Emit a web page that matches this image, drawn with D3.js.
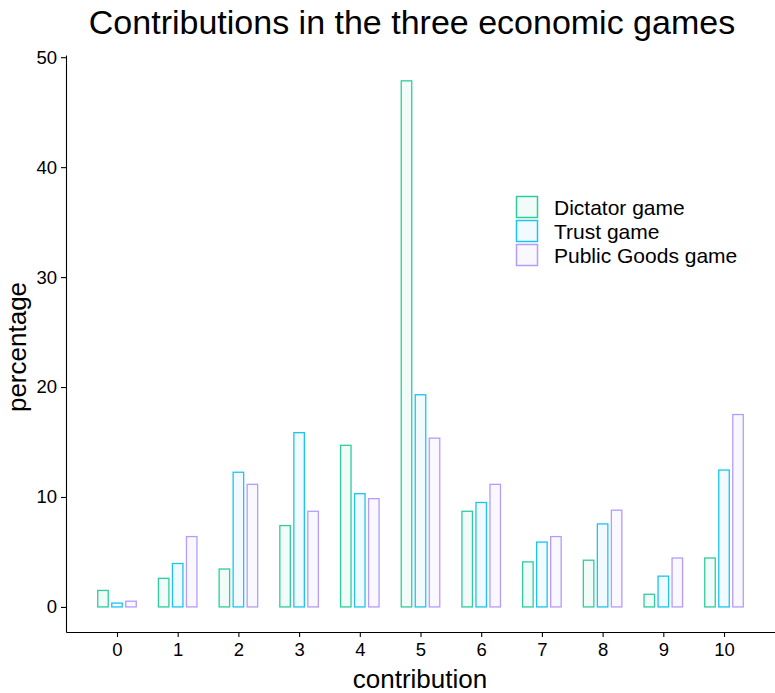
<!DOCTYPE html>
<html>
<head>
<meta charset="utf-8">
<script src="https://cdn.jsdelivr.net/npm/d3@7"></script>
<style>
body { margin: 0; background: #fff; }
svg { font-family: "Liberation Sans", Arial, sans-serif; }
</style>
</head>
<body>
<svg id="chart" width="775" height="693"></svg>
<script>
const contributions = [0, 1, 2, 3, 4, 5, 6, 7, 8, 9, 10];
const seriesNames = ["Dictator game", "Trust game", "Public Goods game"];
const dictator = [1.5, 2.6, 3.45, 7.4, 14.7, 47.85, 8.7, 4.1, 4.25, 1.15, 4.45];
const trust = [0.35, 3.95, 12.25, 15.85, 10.3, 19.3, 9.5, 5.9, 7.55, 2.8, 12.45];
const publicGoods = [0.52, 6.4, 11.15, 8.7, 9.85, 15.35, 11.15, 6.4, 8.8, 4.45, 17.5];
const yTicks = [0, 10, 20, 30, 40, 50];
const strokeColors = ["#2fcc9c", "#1cc4f0", "#b49cfa"];
const fillColors = ["#f1fbf8", "#f1fafe", "#faf8ff"];

const svg = d3.select("#chart");
const margin = { left: 66, right: 775, top: 55, bottom: 632 };

const x = d3.scaleLinear().domain([-0.84, 10.84]).range([margin.left, margin.right]);
const y = d3.scaleLinear().domain([-2.28, 50.2]).range([margin.bottom, margin.top]);

const series = [dictator, trust, publicGoods];
const offset = d3.scaleBand().domain(d3.range(3)).range([-0.3175, 0.3175]).paddingInner(0.25).paddingOuter(0);
const bw = offset.bandwidth();

series.forEach((vals, s) => {
  svg.append("g").selectAll("rect")
    .data(contributions.map((c, i) => ({ c, v: vals[i] })))
    .join("rect")
    .attr("x", d => x(d.c + offset(s)))
    .attr("width", d => x(d.c + offset(s) + bw) - x(d.c + offset(s)))
    .attr("y", d => y(d.v))
    .attr("height", d => y(0) - y(d.v))
    .attr("fill", fillColors[s])
    .attr("stroke", strokeColors[s])
    .attr("stroke-width", 1.3);
});

// axes
const xAxis = svg.append("g")
  .attr("transform", `translate(0,${margin.bottom})`)
  .call(d3.axisBottom(x).tickValues(contributions).tickFormat(d3.format("d")).tickSize(5).tickSizeOuter(0).tickPadding(6));
const yAxis = svg.append("g")
  .attr("transform", `translate(${margin.left},0)`)
  .call(d3.axisLeft(y).tickValues(yTicks).tickFormat(d3.format("d")).tickSize(5).tickSizeOuter(0).tickPadding(4));

[xAxis, yAxis].forEach(a => {
  a.selectAll("text").attr("font-size", 18.5).attr("fill", "#000").attr("font-family", "Liberation Sans, Arial, sans-serif");
  a.selectAll("line").attr("stroke", "#000").attr("stroke-width", 1.1);
  a.select(".domain").attr("stroke", "#000").attr("stroke-width", 1.1);
});

// title
svg.append("text")
  .attr("x", 412).attr("y", 34)
  .attr("text-anchor", "middle")
  .attr("font-size", 34)
  .text("Contributions in the three economic games");

// axis titles
svg.append("text")
  .attr("x", 420).attr("y", 688)
  .attr("text-anchor", "middle")
  .attr("font-size", 26)
  .text("contribution");
svg.append("text")
  .attr("transform", `translate(26,347) rotate(-90)`)
  .attr("text-anchor", "middle")
  .attr("font-size", 26)
  .text("percentage");

// legend
const legend = svg.append("g").attr("transform", "translate(516,196)");
seriesNames.forEach((name, i) => {
  const g = legend.append("g").attr("transform", `translate(0,${i * 24})`);
  g.append("rect").attr("x", 0.5).attr("y", 0.5).attr("width", 21).attr("height", 21)
    .attr("fill", fillColors[i]).attr("stroke", strokeColors[i]).attr("stroke-width", 1.5);
  g.append("text").attr("x", 38).attr("y", 11).attr("dy", "0.36em")
    .attr("font-size", 21).text(name);
});
</script>
</body>
</html>
